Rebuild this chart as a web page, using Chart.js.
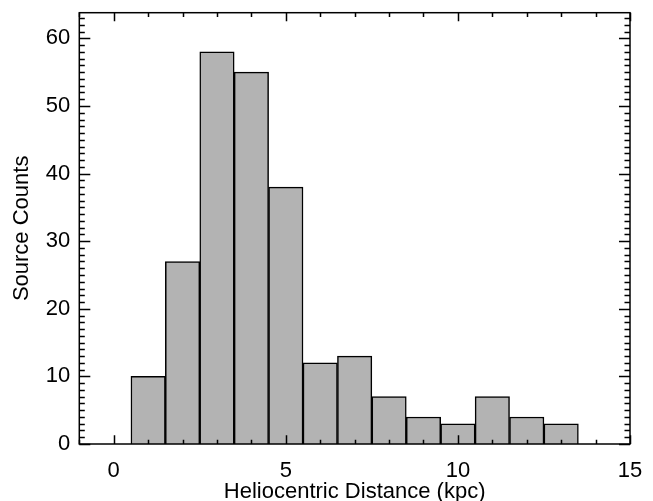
<!DOCTYPE html>
<html>
<head>
<meta charset="utf-8">
<script src="https://cdn.jsdelivr.net/npm/chart.js@4/dist/chart.umd.min.js"></script>
<style>
  html, body { margin: 0; padding: 0; background: #fff; }
  #wrap { width: 653px; height: 501px; }
</style>
</head>
<body>
<div id="wrap"><canvas id="hist"></canvas></div>
<script>
// histogram bins (kpc, bin centres) and counts
const binCenters = [1, 2, 3, 4, 5, 6, 7, 8, 9, 10, 11, 12, 13];
const counts = [10, 27, 58, 55, 38, 12, 13, 7, 4, 3, 7, 4, 3];
const xTickValues = [0, 5, 10, 15];
const yTickValues = [0, 10, 20, 30, 40, 50, 60];

const FONT = 'Liberation Sans, Arial, Helvetica, sans-serif';

// IDL-style inward tick marks on all four sides, plus the frame
const inwardTicks = {
  id: 'inwardTicks',
  afterDatasetsDraw(chart) {
    const { ctx, chartArea: a, scales } = chart;
    const xs = scales.x, ys = scales.y;
    const w = a.right - a.left, h = a.bottom - a.top;
    ctx.save();
    ctx.strokeStyle = '#000';
    ctx.lineWidth = 1.5;
    ctx.beginPath();
    for (let v = Math.ceil(xs.min); v <= xs.max; v++) {
      const px = Math.round(xs.getPixelForValue(v)) + 0.5;
      const len = (v % 5 === 0 ? 0.02 : 0.01) * h;
      ctx.moveTo(px, a.bottom); ctx.lineTo(px, a.bottom - len);
      ctx.moveTo(px, a.top); ctx.lineTo(px, a.top + len);
    }
    for (let v = Math.ceil(ys.min); v <= ys.max; v++) {
      const py = Math.round(ys.getPixelForValue(v)) + 0.5;
      const len = (v % 10 === 0 ? 0.02 : 0.01) * w;
      ctx.moveTo(a.left, py); ctx.lineTo(a.left + len, py);
      ctx.moveTo(a.right, py); ctx.lineTo(a.right - len, py);
    }
    ctx.stroke();
    ctx.strokeRect(a.left, a.top, w, h);
    ctx.restore();
  }
};

// pin the axis boxes so the plot area stays fixed
const fixBox = (size, horizontal) => s => {
  if (horizontal) { s.height = size; s.paddingLeft = 0; s.paddingRight = 0; }
  else { s.width = size; s.paddingTop = 0; s.paddingBottom = 0; }
};

new Chart(document.getElementById('hist'), {
  type: 'bar',
  data: {
    datasets: [{
      data: binCenters.map((c, i) => ({ x: c, y: counts[i] })),
      backgroundColor: '#b3b3b3',
      borderColor: '#000',
      borderWidth: 1.5,
      barPercentage: 1,
      categoryPercentage: 1
    }]
  },
  options: {
    responsive: true,
    maintainAspectRatio: false,
    animation: false,
    layout: { padding: 0 },
    plugins: { legend: { display: false }, tooltip: { enabled: false } },
    scales: {
      x: {
        type: 'linear',
        min: -1,
        max: 15,
        offset: false,
        grid: { display: false, drawTicks: false },
        border: { display: false },
        afterBuildTicks: s => { s.ticks = xTickValues.map(v => ({ value: v })); },
        afterFit: fixBox(57, true),
        ticks: { color: '#000', font: { family: FONT, size: 22 }, padding: 14, maxRotation: 0 },
        title: {
          display: true,
          text: 'Heliocentric Distance (kpc)',
          color: '#000',
          font: { family: FONT, size: 22, lineHeight: 0.85 },
          padding: 0
        }
      },
      y: {
        min: 0,
        max: 63.8,
        grid: { display: false, drawTicks: false },
        border: { display: false },
        afterBuildTicks: s => { s.ticks = yTickValues.map(v => ({ value: v })); },
        afterFit: fixBox(79.3, false),
        ticks: { color: '#000', font: { family: FONT, size: 22 }, padding: 9 },
        title: {
          display: true,
          text: 'Source Counts',
          color: '#000',
          font: { family: FONT, size: 22, lineHeight: 1 },
          padding: { top: 11, bottom: 0 }
        }
      },
      x2: {
        type: 'linear', position: 'top', min: -1, max: 15,
        grid: { display: false, drawTicks: false }, border: { display: false },
        ticks: { display: false },
        afterFit: fixBox(12.7, true)
      },
      y2: {
        type: 'linear', position: 'right', min: 0, max: 63.8,
        grid: { display: false, drawTicks: false }, border: { display: false },
        ticks: { display: false },
        afterFit: fixBox(23, false)
      }
    }
  },
  plugins: [inwardTicks]
});
</script>
</body>
</html>
